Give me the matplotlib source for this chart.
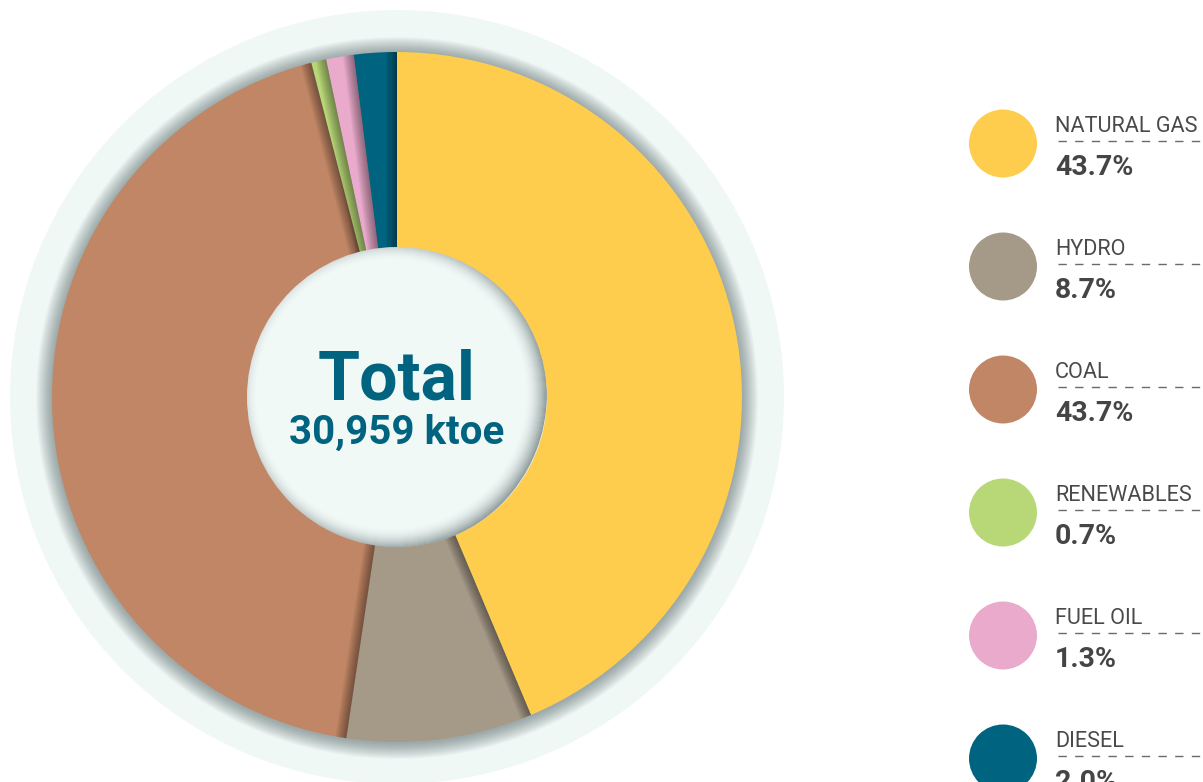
import numpy as np
import matplotlib.pyplot as plt
from matplotlib.patches import Circle, Polygon, Wedge

plt.rcParams['font.family'] = ['Roboto', 'DejaVu Sans']

sources = ['NATURAL GAS', 'HYDRO', 'COAL', 'RENEWABLES', 'FUEL OIL', 'DIESEL']
shares = [43.7, 8.7, 43.7, 0.7, 1.3, 2.0]
colors = ['#FFCD4D', '#A59988', '#C08665', '#B8D878', '#E9AACB', '#00637F']
total_label = '30,959 ktoe'

W, H = 1203, 782
fig = plt.figure(figsize=(W / 100, H / 100), dpi=100)
ax = fig.add_axes([0, 0, 1, 1])

cx, cy = 397, H - 397
r_out, r_in, r_bg = 345, 150, 387

# pale backdrop disc
ax.add_patch(Circle((cx, cy), r_bg, color='#F0F8F6', lw=0, zorder=0))

# soft shadow around the pie rim
for i in range(16):
    ax.add_patch(Circle((cx, cy - 1), r_out + 16 - i, color='#2f4545',
                        alpha=0.03, lw=0, zorder=1))

wedges, _ = ax.pie(shares, colors=colors, startangle=90, counterclock=False,
                   center=(cx, cy), radius=r_out,
                   wedgeprops=dict(linewidth=0))
for w in wedges:
    w.set_zorder(2)

# shading along each slice boundary, falling on its left-hand side
clip = Circle((cx, cy), r_out, transform=ax.transData)
bounds = np.cumsum([0] + shares[:-1]) / sum(shares) * 360
for th in np.radians(bounds):
    u = np.array([np.sin(th), np.cos(th)])
    n = np.array([np.cos(th), -np.sin(th)])
    if n[0] > 0 or (abs(n[0]) < 1e-9 and n[1] > 0):
        n = -n
    p0 = np.array([cx, cy]) + u * (r_in - 10)
    p1 = np.array([cx, cy]) + u * (r_out + 10)
    for k in range(10):
        d = 1 + k * 1.1
        poly = Polygon([p0, p1, p1 + n * d, p0 + n * d], closed=True,
                       color='black', alpha=0.045, lw=0, zorder=3)
        ax.add_patch(poly)
        poly.set_clip_path(clip)

# centre disc, shaded inside its rim (heavier towards the right)
ax.add_patch(Circle((cx, cy), r_in, color='#F1F9F7', lw=0, zorder=5))
disc_clip = Circle((cx, cy), r_in, transform=ax.transData)
steps = 22
for k in range(steps):
    ring = Wedge((cx - 6, cy + 3), r_in + 6 - k, 0, 360, width=1.2,
                 color='#3c4c4f', alpha=0.5 * (1 - k / steps) ** 2, lw=0,
                 zorder=6)
    ax.add_patch(ring)
    ring.set_clip_path(disc_clip)

ax.text(cx, H - 399, 'Total', ha='center', va='baseline', fontsize=49,
        fontweight='bold', color='#00637F', zorder=7)
ax.text(cx, H - 444, total_label, ha='center', va='baseline', fontsize=29,
        fontweight='bold', color='#00637F', zorder=7)

# legend
for i, (name, pct, col) in enumerate(zip(sources, shares, colors)):
    yc = H - (143.5 + i * 123)
    ax.add_patch(Circle((1003, yc), 34, color=col, lw=0, zorder=2))
    ax.text(1055, yc + 11.5, name, ha='left', va='baseline', fontsize=15.6,
            color='#4a4a4a')
    ax.plot([1058, W], [yc + 2.5, yc + 2.5], color='#6a6a6a', lw=1,
            dashes=(6, 6))
    ax.text(1055, yc - 31.5, f'{pct:.1f}%', ha='left', va='baseline',
            fontsize=20.5, fontweight='bold', color='#454545')

ax.set_xlim(0, W)
ax.set_ylim(0, H)
ax.set_aspect('auto')
ax.axis('off')

fig.savefig('out.png', dpi=100, facecolor='white')
